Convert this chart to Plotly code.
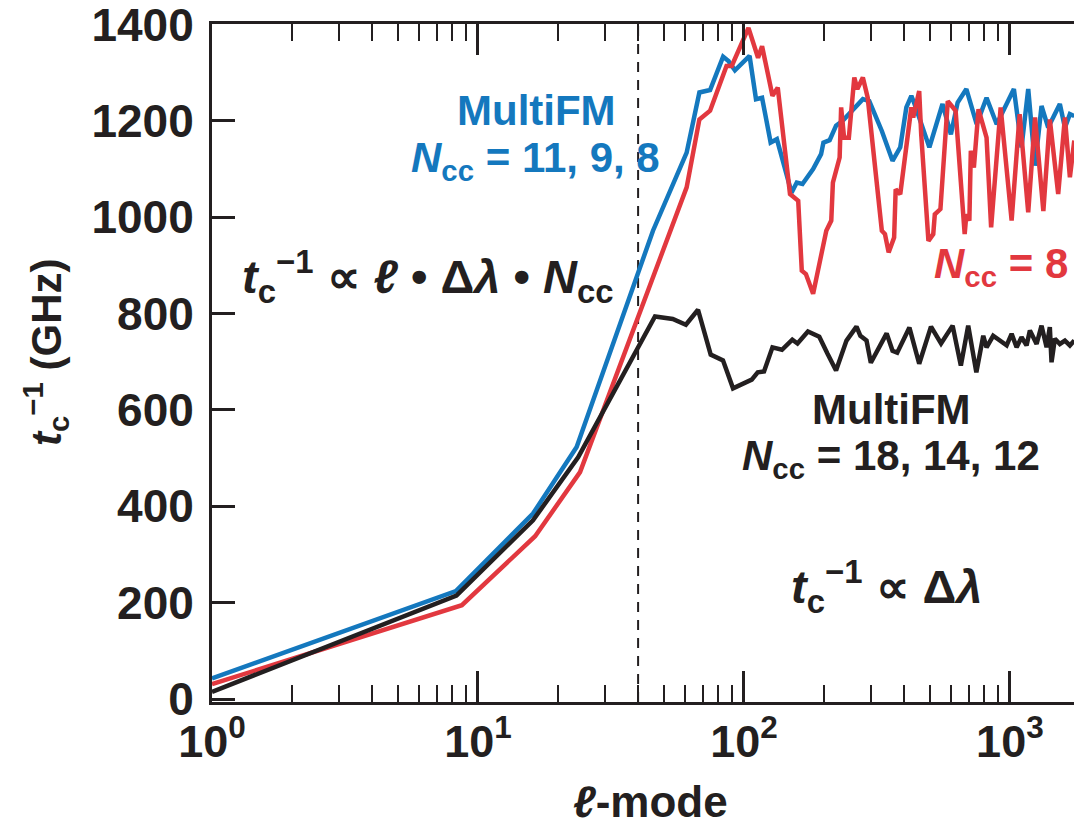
import plotly.graph_objects as go

# ---------------- data ----------------
l_black = [1, 8.3, 16.1, 23.8, 46.3, 54, 60.5, 67.2, 75, 83.4, 91, 107, 112.7, 119, 128, 139,
           152, 159, 174, 192, 206, 222, 243, 265, 274, 289, 300, 344, 362, 377, 419, 456,
           505, 551, 609, 654, 697, 748, 794, 817, 865, 917, 972, 1015, 1060, 1106, 1155,
           1189, 1260, 1315, 1374, 1413, 1434, 1476, 1541, 1610, 1681, 1746]
t_black = [15, 215, 371, 502, 794, 789, 777, 808, 715, 703, 645, 663, 678, 680, 730, 725,
           746, 738, 763, 752, 717, 682, 744, 773, 754, 744, 698, 759, 723, 719, 771, 696,
           773, 738, 775, 692, 775, 678, 754, 730, 754, 744, 734, 758, 730, 751, 734,
           765, 737, 775, 730, 772, 699, 748, 737, 744, 734, 744]

l_blue = [1, 8.26, 16.1, 23.5, 45.5, 60.9, 68, 74.6, 83.5, 87.5, 92.5, 105, 111, 117, 126, 133,
          151, 158, 166, 182, 195, 199, 210, 222, 235, 265, 280, 296, 330, 362, 387, 408,
          426, 438, 498, 558, 600, 636, 686, 750, 817, 892, 945, 1035, 1106, 1172, 1243,
          1315, 1393, 1541, 1610, 1681, 1746]
t_blue = [43, 224, 385, 523, 972, 1134, 1259, 1264, 1333, 1324, 1305, 1335, 1245, 1248, 1155, 1162,
          1051, 1072, 1069, 1100, 1131, 1155, 1160, 1190, 1200, 1231, 1245, 1241, 1179, 1117, 1145, 1228,
          1252, 1235, 1145, 1235, 1172, 1238, 1266, 1193, 1248, 1193, 1221, 1266, 1145, 1266, 1107,
          1231, 1186, 1235, 1186, 1214, 1210]

l_red = [1, 8.7, 16.4, 24.2, 60.9, 68, 74.6, 86, 90, 104, 113, 117, 128, 134, 149, 160, 165, 171,
         182, 204, 213, 216, 229, 232, 238, 248, 260, 267, 280, 292, 330, 339, 350, 367, 372,
         387, 426, 433, 456, 464, 494, 515, 522, 548, 584, 625, 676, 686, 704, 713, 732, 762,
         817, 850, 923, 1015, 1088, 1172, 1243, 1336, 1413, 1519, 1610, 1681, 1746]
t_red = [31, 195, 338, 471, 1062, 1203, 1221, 1314, 1314, 1393, 1331, 1355, 1252, 1269, 1048, 1034, 889, 882,
         841, 972, 993, 1072, 1124, 1228, 1165, 1165, 1290, 1266, 1290, 1248, 972, 965, 927, 958, 1058,
         1048, 1228, 1207, 1262, 1172, 951, 965, 1006, 1017, 1241, 1221, 965, 1006, 993, 1138, 1103, 1224,
         1165, 979, 1228, 993, 1214, 1010, 1207, 1013, 1203, 1048, 1207, 1083, 1159]

l_boundary = 40  # dashed vertical line position

x_tickvals = [1, 10, 100, 1000]
x_ticktext = ["10<sup>0</sup>", "10<sup>1</sup>", "10<sup>2</sup>", "10<sup>3</sup>"]
y_tickvals = [0, 200, 400, 600, 800, 1000, 1200, 1400]

# ---------------- style ----------------
BLUE = "#1478BE"
RED = "#E2383F"
BLACK = "#231F20"
FONT = "Liberation Sans"

W, H = 1074, 822
ML, MR, MT, MB = 212, 0, 24, 120
PW, PH = W - ML - MR, H - MT - MB
Y_RANGE = [-6, 1401]


def px(xp):
    return (xp - ML) / PW


def py(yp):
    return (H - MB - yp) / PH


minor_vals = [m * 10 ** d for d in range(0, 4) for m in range(2, 10)]

fig = go.Figure()

fig.add_trace(go.Scatter(x=[l_boundary, l_boundary], y=Y_RANGE, mode="lines",
                         line=dict(color=BLACK, width=2, dash="10px,8px"),
                         showlegend=False, hoverinfo="skip"))
fig.add_trace(go.Scatter(x=l_blue, y=t_blue, mode="lines",
                         line=dict(color=BLUE, width=4.5), showlegend=False))
fig.add_trace(go.Scatter(x=l_red, y=t_red, mode="lines",
                         line=dict(color=RED, width=4.5), showlegend=False))
fig.add_trace(go.Scatter(x=l_black, y=t_black, mode="lines",
                         line=dict(color=BLACK, width=4.5), showlegend=False))

fig.update_layout(
    width=W, height=H,
    margin=dict(l=ML, r=MR, t=MT, b=MB, pad=0),
    paper_bgcolor="white", plot_bgcolor="white",
    font=dict(family=FONT, color=BLACK),
    xaxis=dict(
        type="log", range=[0, 3.241],
        showgrid=False, zeroline=False,
        showline=True, linewidth=3, linecolor=BLACK, mirror="ticks",
        ticks="inside", ticklen=31, tickwidth=2.5, tickcolor=BLACK,
        tickvals=x_tickvals, ticktext=x_ticktext,
        tickfont=dict(family=FONT, size=45, color=BLACK, weight="bold"),
        ticklabelstandoff=-2,
        minor=dict(tickvals=minor_vals, ticks="inside", ticklen=17, tickwidth=2,
                   tickcolor=BLACK, showgrid=False),
    ),
    yaxis=dict(
        range=Y_RANGE,
        showgrid=False, zeroline=False,
        showline=True, linewidth=3, linecolor=BLACK, mirror=False,
        ticks="inside", ticklen=23, tickwidth=2.5, tickcolor=BLACK,
        tickvals=y_tickvals,
        tickfont=dict(family=FONT, size=46, color=BLACK, weight="bold"),
        ticklabelstandoff=6,
        ticklabeloverflow="allow",
    ),
    yaxis2=dict(
        range=Y_RANGE, overlaying="y", side="right", anchor="x",
        showgrid=False, zeroline=False, showline=False,
        ticks="inside", ticklen=10, tickwidth=2.5, tickcolor=BLACK,
        tickvals=y_tickvals, showticklabels=False,
    ),
)

ann = []


def add(text, x, y, size, color, xanchor="center", yanchor="middle", angle=0):
    ann.append(dict(text=text, x=px(x), y=py(y), xref="paper", yref="paper",
                    xanchor=xanchor, yanchor=yanchor, showarrow=False, textangle=angle,
                    font=dict(family=FONT, size=size, color=color, weight="bold")))


add("MultiFM", 536, 110, 42, BLUE)
add("<i>N</i><sub>cc</sub> = 11, 9, 8", 535, 160, 42, BLUE)
add("<i>t</i><sub>c</sub><sup>−1</sup> ∝ <i>ℓ</i> • Δ<i>λ</i> • <i>N</i><sub>cc</sub>", 615, 276, 47, BLACK,
    xanchor="right")
add("<i>N</i><sub>cc</sub> = 8", 1070, 266, 42, RED, xanchor="right")
add("MultiFM", 891, 410, 42, BLACK)
add("<i>N</i><sub>cc</sub> = 18, 14, 12", 891, 458, 42, BLACK)
add("<i>t</i><sub>c</sub><sup>−1</sup> ∝ Δ<i>λ</i>", 887, 586, 47, BLACK)
add("<i>t</i><sub>c</sub><sup>−1</sup> (GHz)", 45, 352, 42, BLACK, angle=-90)
add("<i>ℓ</i>-mode", 650, 828, 44, BLACK, yanchor="bottom")

fig.update_layout(annotations=ann)

fig.write_html("out.html")
